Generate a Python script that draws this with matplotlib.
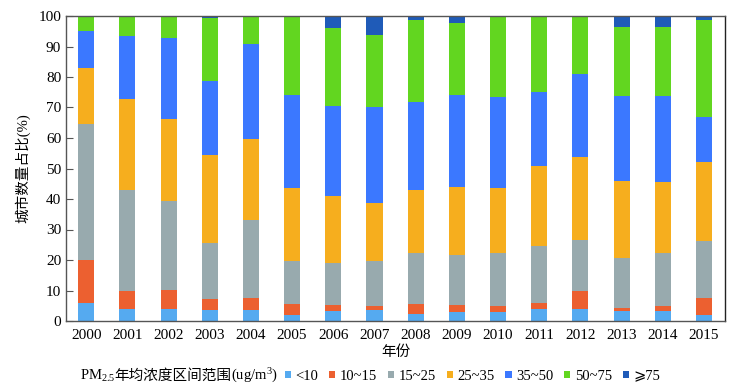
import matplotlib
matplotlib.use("Agg")
import matplotlib.pyplot as plt
import numpy as np

years = [str(y) for y in range(2000, 2016)]
categories = ["<10", "10~15", "15~25", "25~35", "35~50", "50~75", "⩾75"]
colors = ["#55aaf0", "#ec6030", "#98aaae", "#f6ae1e", "#3b78ff", "#62d620", "#1f5bb8"]

lt10 = [6.0, 3.9, 3.9, 3.5, 3.5, 1.9, 3.3, 3.5, 2.4, 2.8, 2.8, 3.9, 3.9, 3.3, 3.3, 1.9]
r10_15 = [14.1, 5.8, 6.4, 3.6, 4.2, 3.7, 1.9, 1.3, 3.2, 2.6, 2.0, 2.1, 5.8, 1.0, 1.5, 5.8]
r15_25 = [44.5, 33.3, 28.9, 18.5, 25.5, 14.1, 13.8, 14.9, 16.7, 16.2, 17.4, 18.5, 17.0, 16.4, 17.4, 18.4]
r25_35 = [18.2, 29.8, 27.1, 28.7, 26.5, 23.9, 22.1, 19.1, 20.7, 22.4, 21.4, 26.2, 27.2, 25.1, 23.5, 25.9]
r35_50 = [12.4, 20.8, 26.6, 24.4, 31.2, 30.4, 29.5, 31.3, 28.9, 30.1, 29.7, 24.4, 27.1, 28.0, 28.1, 15.0]
r50_75 = [4.8, 6.4, 7.1, 20.8, 9.1, 26.0, 25.6, 23.8, 26.8, 23.7, 26.7, 24.9, 19.0, 22.5, 22.5, 31.8]
ge75 = [0.0, 0.0, 0.0, 0.5, 0.0, 0.0, 3.8, 6.1, 1.3, 2.2, 0.0, 0.0, 0.0, 3.7, 3.7, 1.2]

series = [lt10, r10_15, r15_25, r25_35, r35_50, r50_75, ge75]

FAM = ['Liberation Serif', 'Noto Sans CJK SC', 'DejaVu Sans']
plt.rcParams['font.family'] = FAM
plt.rcParams['mathtext.fontset'] = 'custom'
plt.rcParams['mathtext.rm'] = 'Liberation Serif'
plt.rcParams['mathtext.it'] = 'Liberation Serif:italic'
plt.rcParams['mathtext.bf'] = 'Liberation Serif:bold'

fig = plt.figure(figsize=(7.49, 3.91), dpi=100)
ax = fig.add_axes([66/749, 1-321/391, (725-66)/749, (321-16)/391])

x = np.arange(len(years))
bottom = np.zeros(len(years))
handles = []
for vals, c, lab in zip(series, colors, categories):
    v = np.array(vals)
    b = ax.bar(x, v, width=0.39, bottom=bottom, color=c, label=lab, linewidth=0)
    handles.append(b)
    bottom += v

ax.set_xlim(-0.49, 15.51)
ax.set_ylim(0, 100)
ax.set_yticks(np.arange(0, 101, 10))
ax.set_xticks(x)
ax.set_xticklabels(years)
ax.tick_params(axis='y', direction='in', length=5, labelsize=11, width=0.8, color='#555555')
ax.tick_params(axis='x', length=0, labelsize=11, pad=6)
for s in ax.spines.values():
    s.set_color('#555555')
    s.set_linewidth(1.0)
ax.spines['right'].set_color('#222222')
ax.set_xlabel('年份', fontsize=10.5, labelpad=2)
ax.set_ylabel('城市数量占比(%)', fontsize=10.5, labelpad=6)

# Legend title built from consecutive text pieces
fig.canvas.draw()
renderer = fig.canvas.get_renderer()
ybase = 1 - 380/391
pieces = [r"$\mathrm{PM}_{2.5}$", "年均浓度区间范围", r"$\mathrm{(ug/m}^{3}\mathrm{)}$"]
xpix = 80
for txt in pieces:
    t = fig.text(xpix/749, ybase, txt, fontsize=10.5, va='baseline', ha='left')
    bb = t.get_window_extent(renderer)
    xpix += bb.width - 1

fig.legend(handles=handles, labels=categories, loc='center left',
           bbox_to_anchor=(285/749, 1-376/391), ncol=7, frameon=False,
           fontsize=10.5, handlelength=0.42, handleheight=0.42, handletextpad=0.3,
           columnspacing=0.75, borderpad=0, borderaxespad=0)

fig.savefig('out.png', dpi=100)
